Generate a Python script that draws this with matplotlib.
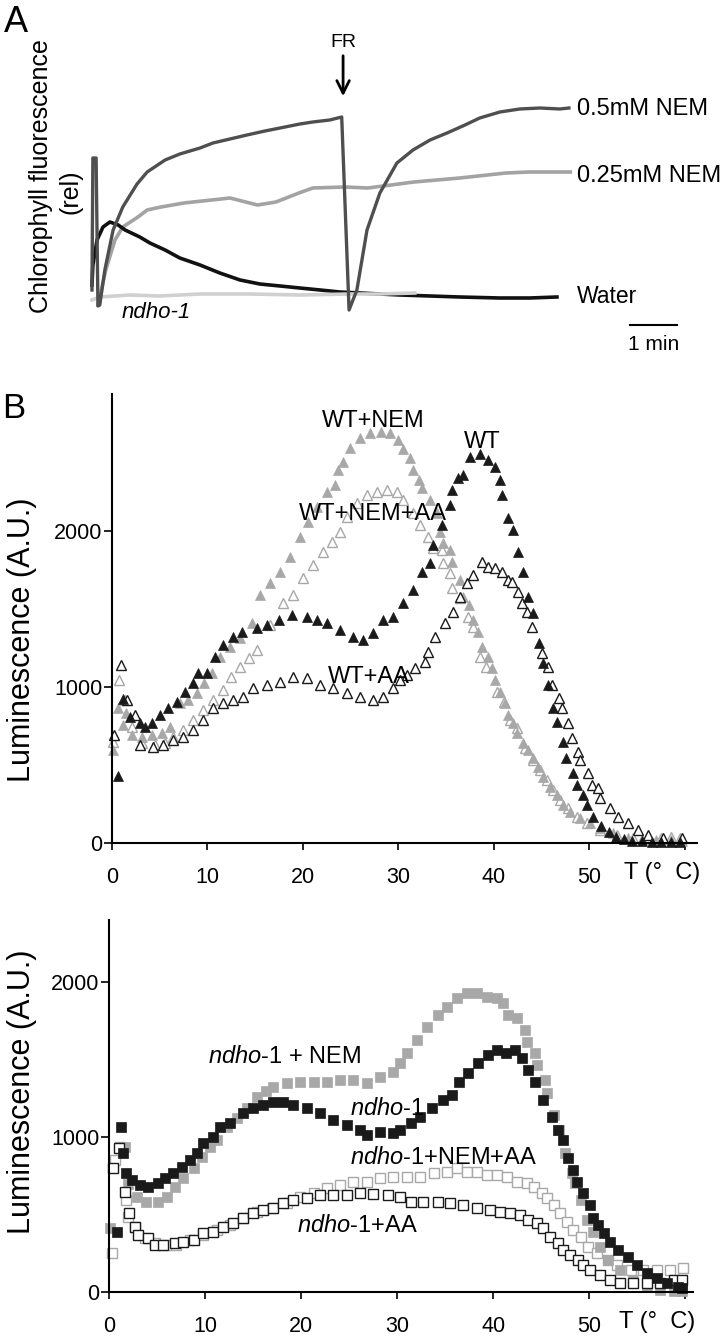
import matplotlib
matplotlib.use("Agg")
import matplotlib.pyplot as plt

plt.rcParams['font.family'] = ['Liberation Sans', 'DejaVu Sans']
plt.rcParams['mathtext.fontset'] = 'custom'
plt.rcParams['mathtext.rm'] = 'Liberation Sans'
plt.rcParams['mathtext.it'] = 'Liberation Sans:italic'

# ---- panel A: chlorophyll fluorescence traces (time in min, rel. units)
nem05_t = [0, 0.02, 0.09, 0.13, 0.17, 0.28, 0.46, 0.67, 0.98, 1.20, 1.59, 1.91, 2.35, 2.63, 3.0, 3.37,
           3.76, 4.09, 4.52, 4.80, 5.17, 5.43, 5.59, 5.76, 5.98, 6.26, 6.63, 6.98, 7.35, 7.72, 8.11,
           8.43, 8.87, 9.30, 9.74, 10.17, 10.37]
nem05_F = [0.20, 1.52, 1.52, 0.04, 0.05, 0.40, 0.80, 1.03, 1.26, 1.38, 1.50, 1.56, 1.62, 1.67, 1.71, 1.75,
           1.79, 1.82, 1.86, 1.88, 1.90, 1.93, 0.00, 0.20, 0.80, 1.17, 1.47, 1.60, 1.70, 1.77, 1.85,
           1.92, 1.98, 2.01, 2.02, 2.01, 2.02]
nem025_t = [0.13, 0.30, 0.50, 0.67, 1.0, 1.2, 1.5, 2.0, 2.6, 3.0, 3.6, 4.0, 4.5, 4.8, 5.5, 6.0, 6.5, 7.0,
            8.0, 9.0, 9.5, 10.4]
nem025_F = [0.05, 0.40, 0.70, 0.83, 0.93, 1.00, 1.03, 1.07, 1.10, 1.12, 1.05, 1.08, 1.17, 1.22, 1.23, 1.22,
            1.25, 1.28, 1.32, 1.37, 1.38, 1.38]
water_t = [0.0, 0.02, 0.11, 0.24, 0.39, 0.57, 0.72, 1.04, 1.26, 1.59, 1.91, 2.35, 2.78, 3.22, 3.65, 4.09,
           4.52, 4.96, 5.39, 5.83, 6.26, 6.70, 7.35, 8.0, 8.87, 9.52, 10.11]
water_F = [0.25, 0.45, 0.70, 0.83, 0.88, 0.85, 0.80, 0.73, 0.67, 0.60, 0.52, 0.45, 0.37, 0.30, 0.26, 0.24,
           0.22, 0.20, 0.18, 0.17, 0.16, 0.15, 0.14, 0.13, 0.12, 0.12, 0.13]
ndho_t = [0, 0.17, 0.83, 1.48, 2.35, 3.43, 4.52, 5.61, 6.26, 7.02]
ndho_F = [0.10, 0.13, 0.15, 0.14, 0.16, 0.16, 0.15, 0.16, 0.16, 0.17]
fr_time = 5.46

# ---- panel B top: thermoluminescence, WT (T in deg C, luminescence A.U.)
wt_T = [0.6, 1.2, 1.9, 2.9, 3.5, 4.2, 5.0, 5.9, 6.8, 7.6, 8.5, 9.0, 9.9, 10.8, 11.6, 12.7, 13.6, 15.2,
        16.2, 17.5, 18.8, 20.4, 21.5, 22.5, 23.9, 25.2, 26.3, 27.3, 28.4, 29.4, 30.5, 31.5, 32.5, 33.3,
        33.6, 34.6, 35.4, 35.6, 36.2, 36.8, 37.5, 38.5, 39.4, 40.1, 40.6, 40.8, 41.5, 42.0, 42.5, 43.0,
        43.6, 44.1, 44.7, 45.1, 45.7, 46.2, 46.6, 47.2, 47.5, 48.3, 48.7, 49.3, 49.7, 50.4, 51.2, 52.0,
        52.8, 53.6, 54.5, 55.5, 56.5, 57.5, 58.5, 59.5]
wt_L = [430, 923, 808, 769, 744, 769, 820, 865, 904, 968, 1025, 1090, 1090, 1192, 1270, 1320, 1353, 1378,
        1397, 1430, 1462, 1450, 1430, 1410, 1365, 1320, 1300, 1346, 1430, 1450, 1538, 1622, 1737, 1795,
        1910, 2038, 2167, 2263, 2340, 2359, 2474, 2495, 2455, 2410, 2327, 2231, 2083, 2006, 1865, 1737,
        1577, 1474, 1282, 1154, 1013, 865, 776, 647, 545, 449, 372, 308, 244, 167, 110, 70,
        40, 25, 15, 10, 8, 5, 5, 5]
wtnem_T = [0.1, 0.6, 1.2, 1.5, 2.1, 3.1, 4.2, 5.2, 6.1, 7.1, 8.0, 8.9, 9.6, 10.5, 11.3, 12.4, 13.4, 14.7,
           15.5, 16.5, 17.6, 18.6, 19.7, 20.5, 21.5, 22.5, 23.4, 23.7, 24.2, 24.9, 26.0, 27.0, 28.2, 29.1,
           30.0, 30.5, 31.2, 31.5, 32.1, 32.5, 33.3, 34.0, 34.3, 34.7, 35.4, 35.6, 36.4, 36.8, 37.4, 37.8,
           38.3, 38.7, 39.4, 39.8, 40.1, 40.6, 41.2, 41.5, 42.0, 42.4, 43.0, 43.6, 44.1, 44.6, 45.1, 45.9,
           46.6, 47.2, 48.0, 49.0, 50.1, 51.1, 52.5, 54.0, 55.5, 57.0, 58.5, 59.7]
wtnem_L = [596, 865, 756, 833, 692, 680, 692, 705, 744, 897, 917, 962, 1025, 1090, 1192, 1256, 1314, 1410,
           1590, 1667, 1737, 1833, 1962, 2058, 2154, 2250, 2295, 2391, 2442, 2532, 2596, 2628, 2635, 2628,
           2583, 2526, 2468, 2391, 2327, 2276, 2199, 2115, 1994, 1923, 1878, 1800, 1686, 1577, 1526, 1430,
           1353, 1256, 1192, 1122, 1045, 968, 897, 820, 769, 705, 641, 596, 545, 487, 423, 359,
           308, 244, 199, 160, 128, 96, 64, 35, 25, 20, 20, 15]
wtnemaa_T = [0.1, 0.7, 1.4, 2.1, 3.1, 4.5, 5.5, 6.4, 7.4, 8.5, 9.5, 10.6, 11.6, 12.5, 13.4, 14.3, 15.2,
             16.5, 17.9, 19.0, 20.0, 21.0, 22.1, 23.0, 23.9, 24.6, 25.7, 26.7, 27.7, 28.8, 29.8, 30.5,
             31.5, 32.3, 33.1, 33.6, 34.6, 34.7, 35.4, 35.6, 36.4, 37.3, 37.8, 38.5, 39.2, 40.3, 41.0,
             41.7, 42.4, 43.2, 44.1, 44.8, 45.5, 46.2, 46.9, 47.7, 48.7, 49.7, 51.1, 52.9, 54.6, 56.0,
             57.5, 58.5, 59.5]
wtnemaa_L = [647, 1045, 917, 744, 641, 628, 641, 680, 724, 788, 853, 917, 981, 1064, 1128, 1186, 1237,
             1400, 1538, 1590, 1699, 1782, 1865, 1930, 1994, 2090, 2180, 2231, 2250, 2263, 2250, 2199,
             2115, 2038, 1962, 1891, 1878, 1795, 1731, 1635, 1571, 1449, 1385, 1192, 1128, 968, 904,
             788, 737, 609, 532, 468, 404, 340, 276, 224, 167, 128, 83, 51, 32, 30,
             35, 40, 30]
wtaa_T = [0.2, 0.9, 1.6, 2.4, 2.9, 4.3, 5.3, 6.4, 7.4, 8.5, 9.5, 10.6, 11.6, 12.7, 13.7, 14.8, 16.2, 17.6,
          19.0, 20.4, 21.8, 23.1, 24.6, 26.0, 27.3, 28.4, 29.4, 30.2, 30.9, 31.7, 32.8, 33.1, 33.8, 34.9,
          35.7, 36.4, 37.2, 37.8, 38.7, 39.4, 40.1, 40.8, 41.5, 41.9, 42.5, 42.9, 43.5, 44.0, 45.0, 45.7,
          46.1, 46.8, 47.1, 47.8, 48.2, 48.8, 49.0, 49.8, 50.3, 50.9, 51.1, 52.1, 53.0, 54.0, 55.1, 56.1,
          57.7, 59.7]
wtaa_L = [692, 1141, 917, 820, 628, 615, 628, 660, 680, 724, 788, 865, 897, 917, 936, 994, 1013, 1032,
          1064, 1058, 1013, 994, 962, 936, 917, 936, 994, 1045, 1077, 1122, 1160, 1224, 1320, 1410,
          1480, 1577, 1667, 1718, 1801, 1770, 1763, 1737, 1686, 1673, 1609, 1538, 1481, 1385, 1218, 1128,
          1013, 929, 865, 769, 673, 583, 532, 449, 372, 353, 288, 224, 167, 128, 83, 51,
          32, 32]

# ---- panel B bottom: thermoluminescence, ndho-1
nd_T = [0.8, 1.3, 1.5, 1.8, 2.4, 3.2, 4.1, 5.1, 5.8, 6.7, 7.6, 8.4, 9.2, 9.8, 10.8, 11.6, 12.6, 13.9,
        15.0, 16.0, 17.1, 18.1, 19.2, 20.6, 22.0, 23.3, 24.8, 26.1, 26.9, 28.2, 29.6, 30.3, 31.4, 32.4,
        33.6, 34.8, 35.7, 36.4, 37.4, 38.4, 39.5, 40.4, 41.3, 42.3, 43.0, 43.6, 44.4, 45.2, 46.1, 46.7,
        47.3, 47.8, 48.3, 48.7, 49.3, 50.1, 50.4, 50.9, 51.5, 52.2, 53.0, 54.0, 55.0, 56.0, 57.1, 58.1,
        59.2, 59.7]
nd_L = [387, 1065, 897, 768, 723, 690, 677, 703, 735, 768, 806, 852, 897, 961, 1000, 1065, 1090, 1155,
        1187, 1206, 1226, 1226, 1206, 1187, 1155, 1110, 1077, 1045, 1013, 1032, 1026, 1045, 1090, 1129,
        1187, 1239, 1271, 1355, 1413, 1477, 1529, 1561, 1542, 1561, 1510, 1432, 1355, 1239, 1129, 1045,
        981, 865, 787, 710, 639, 561, 477, 432, 381, 323, 271, 226, 174, 123, 90, 58,
        32, 25]
ndnem_T = [0.1, 1.7, 2.0, 2.9, 3.9, 5.1, 6.0, 6.9, 7.7, 8.8, 9.7, 10.5, 11.2, 12.3, 13.3, 14.4, 15.4, 16.3,
           17.1, 18.5, 19.9, 21.3, 22.7, 24.1, 25.4, 26.9, 28.2, 29.6, 30.3, 31.0, 32.1, 33.1, 34.2, 35.2,
           36.2, 37.3, 38.3, 39.4, 40.4, 41.0, 41.5, 42.5, 43.3, 43.5, 44.4, 44.6, 45.4, 45.6, 46.3, 46.8,
           47.5, 48.2, 48.5, 49.1, 49.8, 50.4, 51.1, 52.0, 53.2, 54.6, 56.0, 57.4, 58.8, 59.7]
ndnem_L = [413, 935, 700, 613, 581, 581, 613, 677, 735, 800, 871, 935, 981, 1065, 1123, 1187, 1258, 1300,
           1323, 1348, 1355, 1355, 1355, 1368, 1368, 1348, 1387, 1419, 1480, 1542, 1626, 1710, 1787, 1839,
           1897, 1929, 1929, 1903, 1897, 1865, 1787, 1768, 1690, 1613, 1542, 1465, 1368, 1284, 1142, 1045,
           897, 768, 703, 594, 465, 387, 290, 206, 142, 77, 32, 13, 5, 5]
ndnemaa_T = [0.3, 0.6, 1.1, 1.8, 2.0, 2.7, 3.8, 4.8, 6.0, 7.0, 8.4, 9.8, 11.2, 12.6, 14.0, 15.4, 17.0, 18.5,
             19.9, 21.3, 22.7, 24.1, 25.4, 26.9, 28.2, 29.6, 31.0, 32.4, 33.8, 35.2, 36.2, 37.3, 38.3,
             39.4, 40.4, 41.4, 42.5, 43.5, 44.2, 45.1, 45.6, 46.3, 47.0, 47.7, 48.3, 49.1, 49.9, 50.8,
             51.9, 52.9, 54.3, 55.6, 57.0, 58.4, 59.8]
ndnemaa_L = [252, 852, 935, 594, 484, 419, 348, 316, 303, 303, 335, 368, 400, 432, 477, 516, 545, 574,
             613, 639, 671, 690, 710, 710, 735, 742, 742, 742, 768, 774, 800, 774, 774,
             755, 755, 742, 710, 703, 677, 639, 606, 561, 510, 452, 400, 355, 290, 252,
             206, 174, 142, 142, 142, 142, 155]
ndaa_T = [0.4, 1.0, 1.7, 2.1, 2.7, 3.0, 4.1, 4.8, 5.6, 6.9, 7.7, 8.8, 9.8, 10.8, 11.9, 12.9, 14.0, 15.0,
          16.0, 17.1, 18.1, 19.2, 20.6, 22.0, 23.3, 24.8, 26.1, 27.5, 29.0, 30.3, 31.4, 32.7, 34.2, 35.5,
          36.9, 38.3, 39.7, 40.7, 41.8, 42.8, 43.6, 44.6, 45.2, 45.9, 46.7, 47.3, 48.0, 48.8, 49.4, 50.1,
          51.1, 52.2, 53.2, 54.6, 56.0, 57.4, 58.8, 59.7]
ndaa_L = [800, 929, 645, 510, 419, 368, 348, 303, 303, 316, 323, 335, 381, 387, 419, 445, 477, 510,
          526, 542, 574, 594, 606, 626, 626, 626, 639, 632, 626, 613, 581, 581, 581, 574,
          561, 542, 529, 516, 510, 497, 464, 445, 413, 355, 316, 271, 239, 206, 174, 142,
          110, 77, 58, 58, 58, 58, 77, 77]

x_ticks = [0, 10, 20, 30, 40, 50, 60]
x_ticklabels = ['0', '10', '20', '30', '40', '50', '']
y_ticks = [0, 1000, 2000]

BLACK = '#1a1a1a'
GRAY = '#a8a8a8'

W, H = 720, 1338
fig = plt.figure(figsize=(W / 100, H / 100), dpi=100)


def fx(x):
    return x / W


def fy(y):
    return 1 - y / H


# ================= panel A
axA = fig.add_axes([fx(80), fy(350), fx(700) - fx(80), fy(20) - fy(350)])
axA.set_xlim(-0.26, 13.22)
axA.set_ylim(-0.40, 2.90)
axA.axis('off')
axA.plot(nem025_t, nem025_F, color='#a3a3a3', lw=2.6)
axA.plot(water_t, water_F, color='#111111', lw=2.6)
axA.plot(ndho_t, ndho_F, color='#d0d0d0', lw=2.6)
axA.plot(nem05_t, nem05_F, color='#4f4f4f', lw=2.4)

axA.annotate('', xy=(fr_time, 2.11), xytext=(fr_time, 2.57),
             arrowprops=dict(arrowstyle='->,head_length=0.9,head_width=0.45', lw=2, color='black'))
axA.text(fr_time, 2.63, 'FR', ha='center', va='baseline', fontsize=14)
axA.text(10.54, 1.95, '0.5mM NEM', ha='left', va='baseline', fontsize=17)
axA.text(10.54, 1.28, '0.25mM NEM', ha='left', va='baseline', fontsize=17)
axA.text(10.54, 0.07, 'Water', ha='left', va='baseline', fontsize=16.5)
axA.text(0.65, -0.08, 'ndho-1', ha='left', va='baseline', fontsize=16, style='italic')
axA.plot([11.70, 12.72], [-0.15, -0.15], color='black', lw=1.5)
axA.text(12.21, -0.40, '1 min', ha='center', va='baseline', fontsize=15)

fig.text(fx(4), fy(32), 'A', fontsize=26, ha='left', va='baseline')
fig.text(fx(41), fy(176), 'Chlorophyll fluorescence', rotation=90, fontsize=18,
         ha='center', va='center')
fig.text(fx(71), fy(192), '(rel)', rotation=90, fontsize=18, ha='center', va='center')


def style_axis(ax, xmax, ymax):
    ax.set_xlim(0, xmax)
    ax.set_ylim(0, ymax)
    for s in ['top', 'right']:
        ax.spines[s].set_visible(False)
    for s in ['left', 'bottom']:
        ax.spines[s].set_linewidth(1.5)
        ax.spines[s].set_color('black')
    ax.set_xticks(x_ticks)
    ax.set_xticklabels(x_ticklabels)
    ax.set_yticks(y_ticks)
    ax.tick_params(axis='x', direction='out', length=5, width=1.2, labelsize=15.5, pad=12)
    ax.tick_params(axis='y', direction='out', length=6, width=1.2, labelsize=15.5, pad=1)


# ================= panel B top
axB = fig.add_axes([fx(112), fy(843), 585 / W, 449 / H])
style_axis(axB, 61.26, 2878)
tri = dict(ls='none', marker='^', ms=7.5, clip_on=False)
axB.plot(wtnemaa_T, wtnemaa_L, mfc='white', mec=GRAY, mew=1.0, **tri)
axB.plot(wtnem_T, wtnem_L, mfc=GRAY, mec=GRAY, mew=0.5, **tri)
axB.plot(wtaa_T, wtaa_L, mfc='white', mec=BLACK, mew=1.0, **tri)
axB.plot(wt_T, wt_L, mfc=BLACK, mec=BLACK, mew=0.5, **tri)

fig.text(fx(373), fy(427), 'WT+NEM', ha='center', va='baseline', fontsize=17)
fig.text(fx(482), fy(448), 'WT', ha='center', va='baseline', fontsize=17)
fig.text(fx(373), fy(520), 'WT+NEM+AA', ha='center', va='baseline', fontsize=17)
fig.text(fx(369), fy(683), 'WT+AA', ha='center', va='baseline', fontsize=17)
fig.text(fx(624), fy(873), 'T (°  C)', ha='left', va='center', fontsize=17)
fig.text(fx(2), fy(418), 'B', fontsize=25, ha='left', va='baseline')
fig.text(fx(22), fy(640), 'Luminescence (A.U.)', rotation=90, fontsize=22, ha='center', va='center')

# ================= panel B bottom
axC = fig.add_axes([fx(109), fy(1292), 584 / W, 372 / H])
style_axis(axC, 60.8, 2400)
sq = dict(ls='none', marker='s', ms=6.5, clip_on=False)
axC.plot(ndnemaa_T, ndnemaa_L, mfc='white', mec=GRAY, mew=1.0, **sq)
axC.plot(ndnem_T, ndnem_L, mfc=GRAY, mec=GRAY, mew=0.5, **sq)
axC.plot(ndaa_T, ndaa_L, mfc='white', mec=BLACK, mew=1.0, **sq)
axC.plot(nd_T, nd_L, mfc=BLACK, mec=BLACK, mew=0.5, **sq)

fig.text(fx(208), fy(1063), r'$\mathit{ndho}$-$\mathit{1}$ + NEM', ha='left', va='baseline', fontsize=17)
fig.text(fx(350), fy(1115), r'$\mathit{ndho}$-$\mathit{1}$', ha='left', va='baseline', fontsize=17)
fig.text(fx(350), fy(1164), r'$\mathit{ndho}$-$\mathit{1}$+NEM+AA', ha='left', va='baseline', fontsize=17)
fig.text(fx(297), fy(1232), r'$\mathit{ndho}$-$\mathit{1}$+AA', ha='left', va='baseline', fontsize=17)
fig.text(fx(619), fy(1322), 'T (°  C)', ha='left', va='center', fontsize=17)
fig.text(fx(22), fy(1092), 'Luminescence (A.U.)', rotation=90, fontsize=22, ha='center', va='center')

fig.savefig('out.png', dpi=100)
